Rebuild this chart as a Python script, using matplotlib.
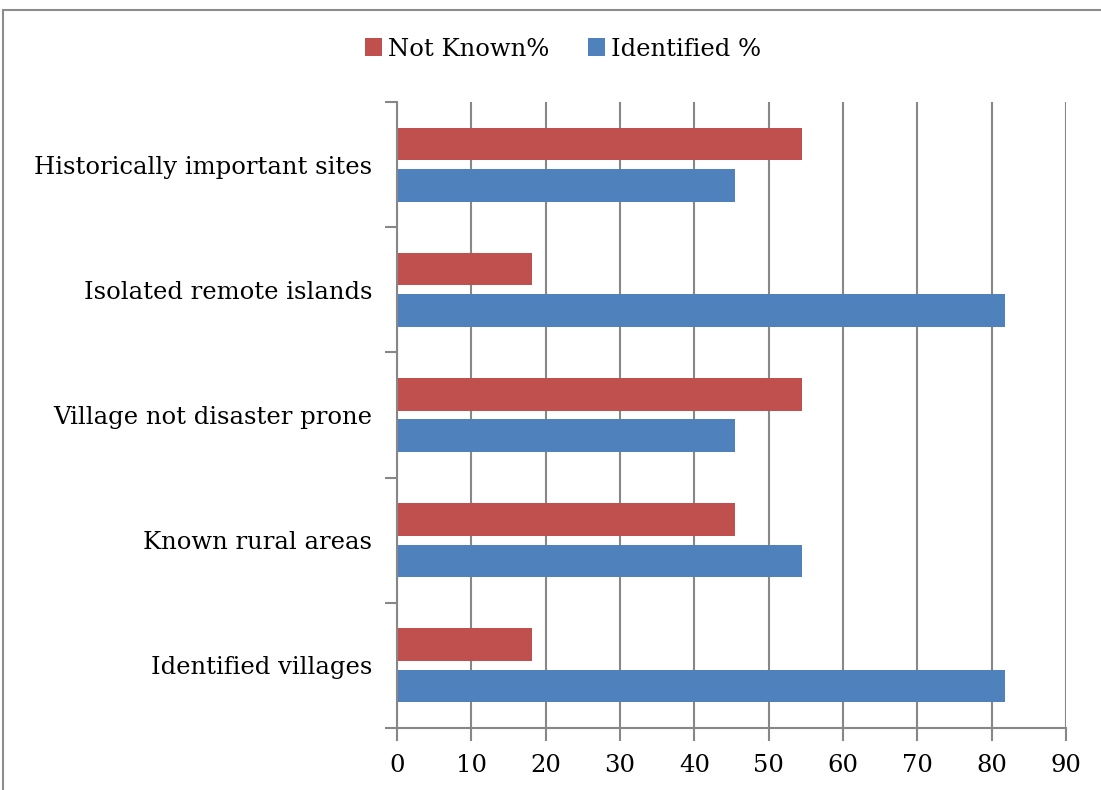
import numpy as np
import matplotlib.pyplot as plt
from matplotlib.patches import Rectangle

categories = ["Historically important sites", "Isolated remote islands",
              "Village not disaster prone", "Known rural areas", "Identified villages"]
not_known = [54.5, 18.2, 54.5, 45.5, 18.2]
identified = [45.5, 81.8, 45.5, 54.5, 81.8]
x_ticks = [0, 10, 20, 30, 40, 50, 60, 70, 80, 90]

red = "#C0504D"
blue = "#4F81BD"
grey = "#878787"

plt.rcParams['font.family'] = ['DejaVu Serif']
fs = 17.5

fig = plt.figure(figsize=(11.01, 7.9), dpi=100)
# outer chart border
fig.patches.append(Rectangle((3 / 1101, -0.01), 1.1, 1 - 10 / 790 + 0.01, transform=fig.transFigure,
                             fill=False, edgecolor="#8c8c8c", linewidth=1.5))

ax = fig.add_axes([397 / 1101, 1 - 728 / 790, (1066 - 397) / 1101, (728 - 102) / 790])

y = np.arange(len(categories))[::-1]
h = 0.26
ax.barh(y + 0.165, not_known, height=h, color=red, label="Not Known%")
ax.barh(y - 0.165, identified, height=h, color=blue, label="Identified %")

ax.set_xlim(0, 90)
ax.set_ylim(-0.5, len(categories) - 0.5)
ax.set_xticks(x_ticks)
ax.set_yticks(y)
ax.set_yticklabels(categories)
ax.set_yticks(np.arange(len(categories) + 1) - 0.5, minor=True)
ax.tick_params(axis='y', which='major', length=0, pad=18, labelsize=fs)
ax.tick_params(axis='y', which='minor', length=9, width=1.5, color=grey, direction='out')
ax.tick_params(axis='x', length=9, width=1.5, color=grey, direction='out', pad=10, labelsize=fs)

ax.xaxis.grid(True, color=grey, linewidth=1.5)
ax.set_axisbelow(True)
for s in ['top', 'right']:
    ax.spines[s].set_visible(False)
for s in ['left', 'bottom']:
    ax.spines[s].set_color(grey)
    ax.spines[s].set_linewidth(1.5)

handles, labels = ax.get_legend_handles_labels()
fig.legend(handles, labels, loc='center', bbox_to_anchor=(563 / 1101, 1 - 49 / 790), ncol=2,
           frameon=False, fontsize=fs, handlelength=0.7, handleheight=0.7,
           handletextpad=0.25, columnspacing=1.6)

fig.savefig("out.png", dpi=100)
